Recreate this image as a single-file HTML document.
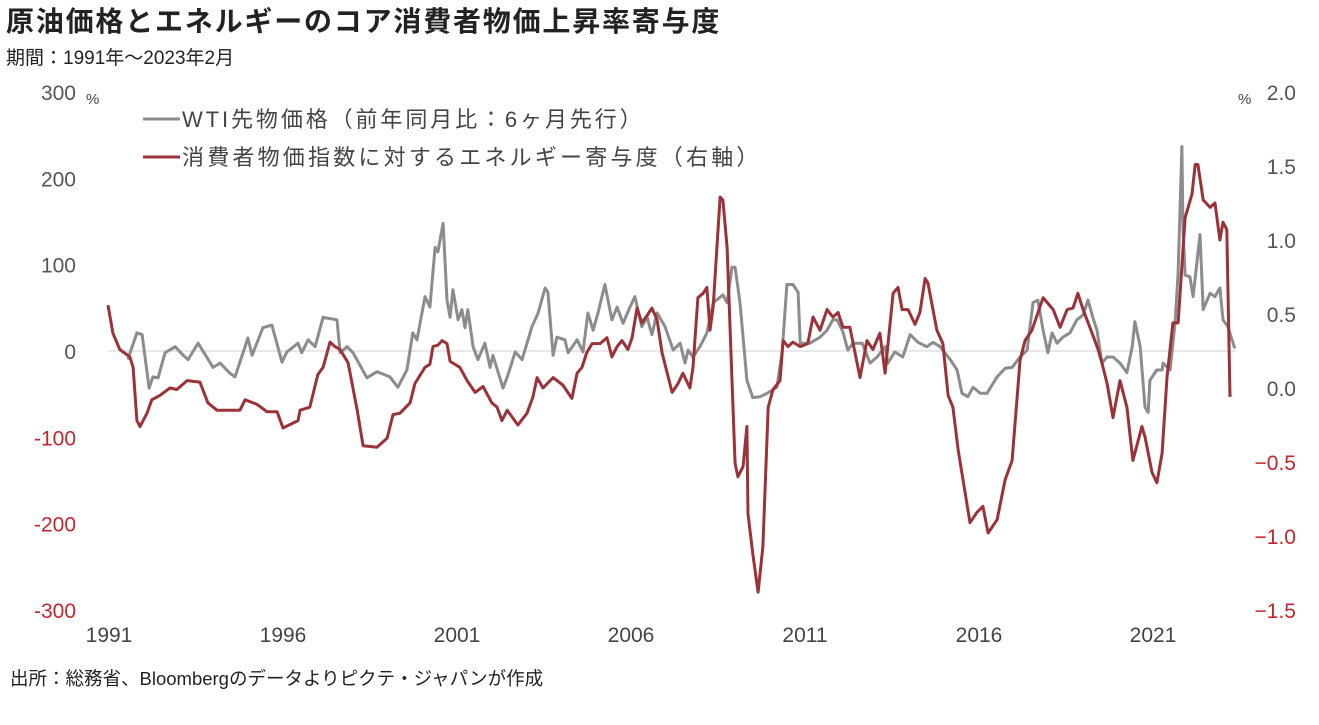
<!DOCTYPE html>
<html><head><meta charset="utf-8">
<style>
body{margin:0;background:#fff;width:1319px;height:720px;overflow:hidden;font-family:"Liberation Sans","Noto Sans CJK JP",sans-serif;}
svg text{font-family:"Liberation Sans","Noto Sans CJK JP",sans-serif;}
</style></head>
<body>
<svg id="chart" width="1319" height="720">
<text x="6" y="31" font-size="28" font-weight="bold" letter-spacing="1.8" fill="#222">原油価格とエネルギーのコア消費者物価上昇率寄与度</text>
<text x="6" y="64" font-size="19" fill="#222">期間：1991年～2023年2月</text>
<text x="10" y="685" font-size="18.5" fill="#222">出所：総務省、Bloombergのデータよりピクテ・ジャパンが作成</text>
<text x="86" y="104" font-size="15" fill="#444">%</text>
<text x="1238" y="104" font-size="15" fill="#444">%</text>
<line x1="143" y1="119" x2="180" y2="119" stroke="#8c8c8c" stroke-width="3"/>
<text x="182" y="127" font-size="22" letter-spacing="2.9" fill="#444">WTI先物価格（前年同月比：6ヶ月先行）</text>
<line x1="143" y1="157" x2="180" y2="157" stroke="#9b3238" stroke-width="3"/>
<text x="182" y="165" font-size="22" letter-spacing="3.2" fill="#444">消費者物価指数に対するエネルギー寄与度（右軸）</text>
<g id="axes"></g>
<g id="series"></g>
</svg>
<script>
const leftTicks=[300,200,100,0,-100,-200,-300];
const rightTicks=[2.0,1.5,1.0,0.5,0.0,-0.5,-1.0,-1.5];
const xTickYears=[1991,1996,2001,2006,2011,2016,2021];
const wtiT=[0.57,0.83,0.98,1.18,1.29,1.44,1.64,1.93,2.16,2.30,2.59,3.02,3.22,3.51,3.65,4.02,4.14,4.45,4.71,5.00,5.14,5.46,5.57,5.75,5.95,6.18,6.58,6.67,6.87,7.04,7.44,7.73,8.10,8.33,8.59,8.76,8.88,9.11,9.25,9.40,9.48,9.63,9.74,9.83,9.91,10.06,10.17,10.26,10.34,10.49,10.63,10.83,10.98,11.06,11.35,11.49,11.70,11.90,12.18,12.36,12.56,12.64,12.79,12.90,13.13,13.22,13.48,13.65,13.79,13.94,14.08,14.28,14.48,14.63,14.80,15.00,15.14,15.34,15.49,15.63,15.78,16.01,16.24,16.44,16.58,16.67,16.81,17.01,17.21,17.39,17.67,17.79,17.93,18.02,18.16,18.36,18.53,18.74,18.94,19.22,19.37,19.51,19.68,19.83,19.89,20.17,20.46,20.66,20.83,20.95,21.12,21.26,21.41,21.67,21.90,22.10,22.33,22.41,22.61,22.84,23.05,23.28,23.53,23.71,23.91,24.20,24.40,24.54,24.71,24.86,25.06,25.26,25.55,25.78,25.98,26.21,26.41,26.58,26.72,26.87,27.01,27.13,27.27,27.44,27.64,27.84,28.02,28.16,28.30,28.42,28.56,28.71,28.88,29.08,29.28,29.43,29.51,29.66,29.80,29.89,29.94,30.14,30.29,30.32,30.52,30.66,30.75,30.86,30.89,30.95,31.09,31.18,31.38,31.47,31.67,31.81,31.95,32.04,32.18,32.38];
const wtiV=[-10,21,19,-43,-30,-31,-2,5,-5,-10,9,-19,-14,-26,-30,15,-5,27,30,-13,-1,9,-2,13,5,39,36,-2,5,-2,-31,-24,-30,-42,-22,21,13,63,51,120,115,148,59,39,71,36,48,27,48,5,-10,9,-19,-5,-43,-28,-1,-10,28,44,73,68,-5,16,13,-2,13,-1,44,24,44,77,36,51,32,51,63,28,39,19,44,28,1,9,-14,1,-7,5,21,56,65,56,97,97,56,-34,-54,-53,-49,-42,-2,77,77,68,9,9,16,24,36,36,22,1,9,9,-14,-7,5,-14,-1,-7,19,10,5,10,5,-10,-22,-49,-53,-42,-49,-49,-30,-20,-19,-7,1,56,59,24,-2,21,9,16,21,36,42,59,39,24,-14,-7,-7,-14,-25,5,34,5,-65,-71,-34,-22,-22,-14,-22,32,90,237,141,88,86,63,135,48,67,63,73,36,28,3];
const cpiT=[0.00,0.14,0.34,0.63,0.72,0.83,0.92,1.12,1.26,1.49,1.78,1.98,2.27,2.64,2.87,3.13,3.42,3.79,3.94,4.28,4.57,4.86,5.03,5.46,5.52,5.80,6.03,6.18,6.38,6.52,6.67,6.90,7.16,7.33,7.73,8.02,8.19,8.39,8.68,8.82,9.11,9.25,9.34,9.48,9.60,9.74,9.83,10.11,10.32,10.55,10.78,11.03,11.18,11.32,11.47,11.78,12.04,12.21,12.33,12.50,12.79,13.07,13.33,13.48,13.62,13.76,13.91,14.14,14.34,14.48,14.63,14.77,14.94,15.06,15.20,15.34,15.49,15.63,15.78,15.92,16.21,16.38,16.52,16.72,16.81,16.95,17.10,17.21,17.30,17.39,17.59,17.67,17.79,17.93,18.02,18.10,18.25,18.36,18.39,18.53,18.68,18.82,18.97,19.11,19.31,19.40,19.54,19.68,19.89,20.11,20.26,20.46,20.66,20.83,20.98,21.12,21.32,21.61,21.81,21.98,22.18,22.33,22.56,22.70,22.82,22.99,23.19,23.33,23.48,23.56,23.82,23.99,24.14,24.28,24.43,24.77,24.97,25.14,25.29,25.55,25.78,25.98,26.21,26.35,26.55,26.87,27.16,27.36,27.56,27.73,27.87,28.02,28.28,28.45,28.56,28.71,28.88,29.08,29.28,29.45,29.71,29.80,30.00,30.14,30.29,30.43,30.60,30.75,30.95,31.15,31.24,31.32,31.47,31.67,31.81,31.95,32.04,32.15,32.24];
const cpiV=[0.56,0.37,0.26,0.21,0.14,-0.22,-0.26,-0.17,-0.08,-0.05,0.00,-0.01,0.05,0.04,-0.10,-0.15,-0.15,-0.15,-0.08,-0.11,-0.16,-0.16,-0.27,-0.22,-0.15,-0.13,0.09,0.14,0.31,0.28,0.26,0.17,-0.15,-0.39,-0.40,-0.34,-0.18,-0.17,-0.10,0.03,0.14,0.16,0.28,0.29,0.32,0.30,0.18,0.14,0.05,-0.03,0.01,-0.10,-0.13,-0.22,-0.15,-0.25,-0.17,-0.06,0.07,0.00,0.07,0.02,-0.07,0.10,0.14,0.24,0.30,0.30,0.34,0.21,0.28,0.32,0.26,0.34,0.54,0.44,0.49,0.54,0.46,0.24,-0.03,0.03,0.10,0.00,0.14,0.61,0.64,0.68,0.39,0.55,1.29,1.27,0.95,0.05,-0.51,-0.60,-0.53,-0.26,-0.85,-1.12,-1.38,-1.07,-0.13,-0.01,0.05,0.32,0.28,0.31,0.28,0.30,0.48,0.39,0.53,0.48,0.51,0.41,0.41,0.07,0.32,0.26,0.37,0.10,0.64,0.68,0.53,0.53,0.43,0.51,0.74,0.71,0.39,0.30,-0.05,-0.13,-0.42,-0.91,-0.84,-0.80,-0.98,-0.89,-0.62,-0.49,0.19,0.32,0.39,0.61,0.53,0.41,0.53,0.54,0.64,0.53,0.37,0.26,0.17,0.03,-0.20,0.05,-0.13,-0.49,-0.26,-0.33,-0.57,-0.64,-0.44,0.07,0.44,0.44,1.15,1.31,1.51,1.51,1.27,1.22,1.25,1.00,1.12,1.07,-0.06];

const NS='http://www.w3.org/2000/svg';
const xScale=t=>108+t*34.8;
const yL=v=>351-v*0.863;
const yR=v=>388-v*148;
const axes=document.getElementById('axes');
const series=document.getElementById('series');
function mk(tag,attrs,parent){const e=document.createElementNS(NS,tag);for(const k in attrs)e.setAttribute(k,attrs[k]);parent.appendChild(e);return e;}

const zl=mk('line',{x1:108,x2:1236,y1:yL(0),y2:yL(0),stroke:'#d0d0d0','stroke-width':1},axes);



leftTicks.forEach(v=>{
  const t=mk('text',{x:76,y:yL(v)+8,'font-size':21,'text-anchor':'end',fill:v<0?'#c0262d':'#555'},axes);
  t.textContent=String(v);
  
  
});
rightTicks.forEach(v=>{
  const t=mk('text',{x:1296,y:yR(v)+8,'font-size':21,'text-anchor':'end',fill:v<0?'#c0262d':'#555'},axes);
  t.textContent=(v<0?'\u2212':'')+Math.abs(v).toFixed(1);
  
  
});
xTickYears.forEach(y=>{
  const t=mk('text',{x:xScale(y-1991)+1,y:642,'font-size':21,'text-anchor':'middle',fill:'#444'},axes);
  t.textContent=String(y);
  
  
});

const wtiPts=wtiT.map((t,i)=>xScale(t).toFixed(1)+','+yL(wtiV[i]).toFixed(1)).join(' ');
const wl=mk('polyline',{points:wtiPts,fill:'none',stroke:'#8c8c8c','stroke-width':3,'stroke-linejoin':'round'},series);



const cpiPts=cpiT.map((t,i)=>xScale(t).toFixed(1)+','+yR(cpiV[i]).toFixed(1)).join(' ');
const cl=mk('polyline',{points:cpiPts,fill:'none',stroke:'#9b3238','stroke-width':3,'stroke-linejoin':'round'},series);


</script>
</body></html>
